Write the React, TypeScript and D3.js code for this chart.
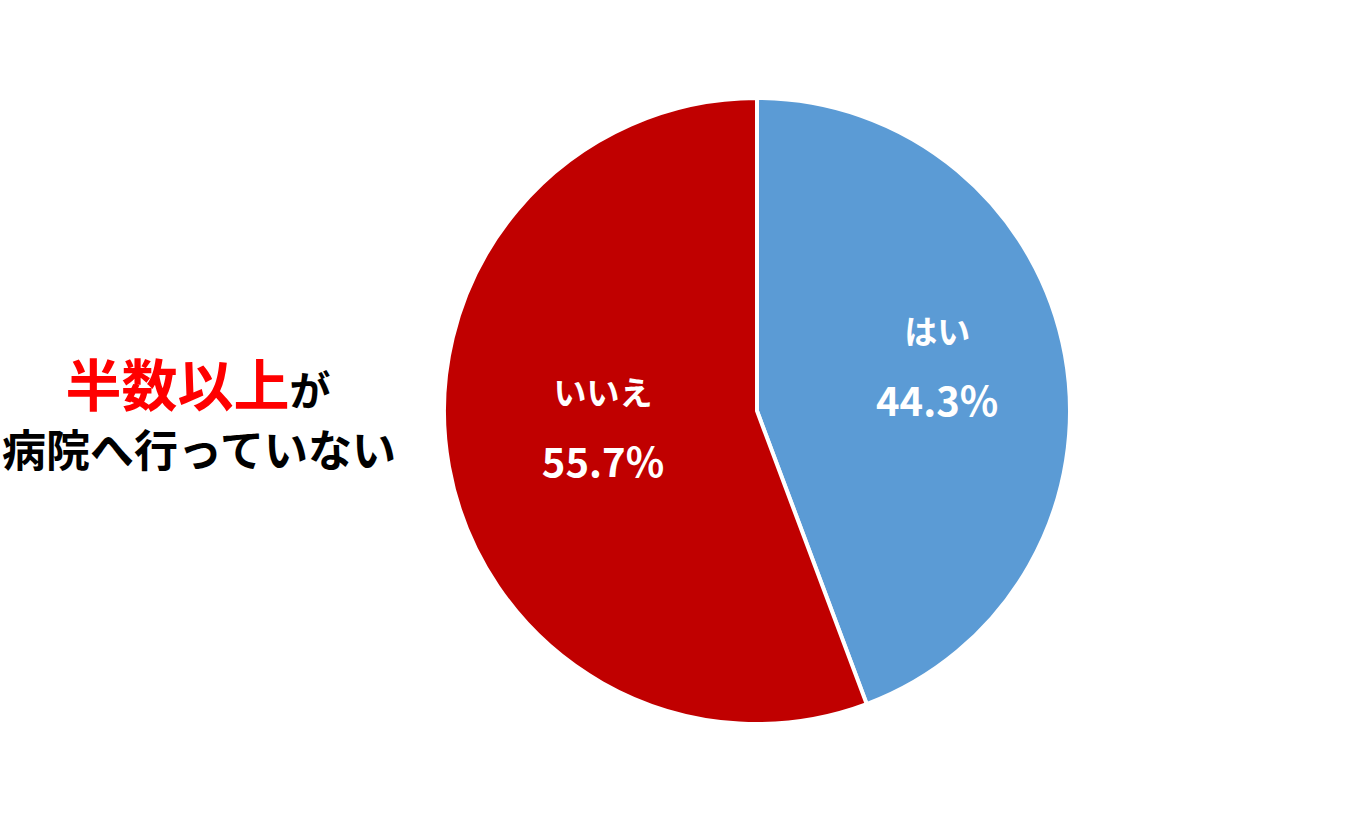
import React from "react";
import * as d3 from "d3";

const categories = ["はい", "いいえ"];
const values = [44.3, 55.7];
const colors = ["#5B9BD5", "#C00000"];
const labelRadiusFrac = [0.585, 0.5];

const W = 1349;
const H = 824;
const cx = 757;
const cy = 411;
const R = 313;

export default function App() {
  const pie = d3.pie<number>().sort(null).value((d) => d)(values);
  const arc = d3.arc<d3.PieArcDatum<number>>().innerRadius(0).outerRadius(R);
  const font = "'Noto Sans CJK JP', 'Noto Sans', sans-serif";
  return (
    <svg width={W} height={H} style={{ position: "absolute", left: 0, top: 0 }}>
      <rect width={W} height={H} fill="#fff" />
      <g transform={`translate(${cx},${cy})`}>
        {pie.map((p, i) => (
          <path key={i} d={arc(p) || ""} fill={colors[i]} stroke="#fff" strokeWidth={4} strokeLinejoin="miter" />
        ))}
        {pie.map((p, i) => {
          const a = (p.startAngle + p.endAngle) / 2;
          const r = R * labelRadiusFrac[i];
          const x = r * Math.sin(a);
          const y = -r * Math.cos(a);
          return (
            <g key={"l" + i} transform={`translate(${x},${y})`} fill="#fff" fontFamily={font} fontWeight="bold" textAnchor="middle">
              <text y={-34} fontSize={33}>{categories[i]}</text>
              <text y={38} fontSize={40}>{d3.format(".1f")(values[i]) + "%"}</text>
            </g>
          );
        })}
      </g>
      <g fontFamily={font} fontWeight="bold" textAnchor="middle">
        <text x={198} y={406}>
          <tspan fill="#FF0000" fontSize={56}>半数以上</tspan>
          <tspan fill="#000" fontSize={41}>が</tspan>
        </text>
        <text x={199} y={467} fill="#000" fontSize={44}>病院へ行っていない</text>
      </g>
    </svg>
  );
}
